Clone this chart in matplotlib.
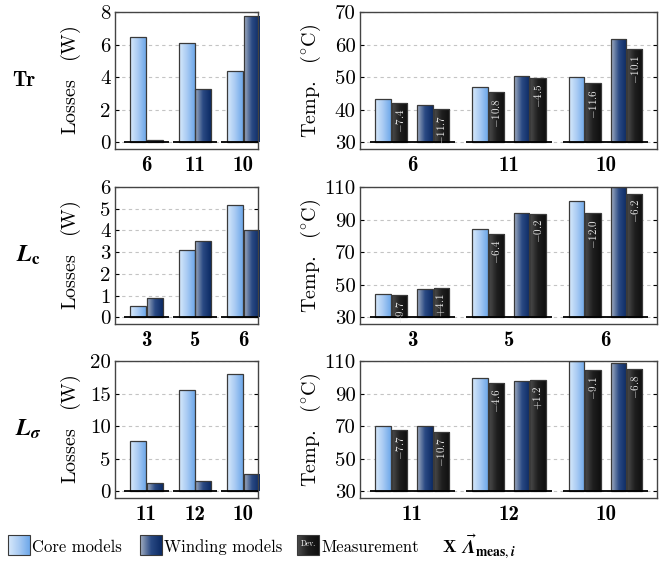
import numpy as np
import matplotlib
matplotlib.use("Agg")
import matplotlib.pyplot as plt
from matplotlib.colors import LinearSegmentedColormap
from matplotlib.patches import Rectangle

plt.rcParams["font.family"] = "serif"
plt.rcParams["font.serif"] = ["cmr10"]
plt.rcParams["mathtext.fontset"] = "cm"
plt.rcParams["axes.unicode_minus"] = False
plt.rcParams["axes.formatter.use_mathtext"] = True

# ---------------- data ----------------
row_names = ["Tr", r"$\mathbfit{L}_{\mathbf{c}}$", r"$\mathbfit{L}_{\mathbfit{\sigma}}$"]

groups_tr = ["6", "11", "10"]
groups_lc = ["3", "5", "6"]
groups_ls = ["11", "12", "10"]

loss_core_tr = [6.44, 6.07, 4.41]
loss_wind_tr = [0.17, 3.30, 7.78]
loss_core_lc = [0.55, 3.08, 5.16]
loss_wind_lc = [0.90, 3.51, 4.00]
loss_core_ls = [7.74, 15.5, 18.05]
loss_wind_ls = [1.28, 1.59, 2.70]

temp_core_tr = [43.3, 47.0, 50.2]
temp_core_meas_tr = [42.2, 45.4, 48.2]
temp_wind_tr = [41.4, 50.5, 61.6]
temp_wind_meas_tr = [40.2, 49.8, 58.8]
dev_core_tr = ["-7.4", "-10.8", "-11.6"]
dev_wind_tr = ["-11.7", "-4.5", "-10.1"]

temp_core_lc = [44.6, 84.1, 101.2]
temp_core_meas_lc = [43.8, 81.2, 94.0]
temp_wind_lc = [47.3, 94.0, 109.8]
temp_wind_meas_lc = [48.3, 93.6, 105.9]
dev_core_lc = ["-9.7", "-6.4", "-12.0"]
dev_wind_lc = ["+4.1", "-0.2", "-6.2"]

temp_core_ls = [70.4, 99.3, 110.0]
temp_core_meas_ls = [67.9, 96.4, 104.2]
temp_wind_ls = [70.2, 97.6, 108.8]
temp_wind_meas_ls = [66.7, 98.2, 105.1]
dev_core_ls = ["-7.7", "-4.6", "-9.1"]
dev_wind_ls = ["-10.7", "+1.2", "-6.8"]

loss_ticks = [[0, 2, 4, 6, 8], [0, 1, 2, 3, 4, 5, 6], [0, 5, 10, 15, 20]]
temp_ticks = [[30, 40, 50, 60, 70], [30, 50, 70, 90, 110], [30, 50, 70, 90, 110]]

# ---------------- style ----------------
cmap_core = LinearSegmentedColormap.from_list("core", ["#d8e9fb", "#a9cbf3", "#6ea8ea"])
cmap_wind = LinearSegmentedColormap.from_list("wind", ["#a3afc2", "#2a4a84", "#0b2a64"])
cmap_meas = LinearSegmentedColormap.from_list("meas", ["#4d4d4d", "#1e1e1e", "#0f0f0f"])
edge = "#3a3a3a"
grid_col = "#c4c4c4"


def grad_bars(ax, bars, cmap):
    g = np.linspace(0, 1, 64).reshape(1, -1)
    for b in bars:
        x0, y0 = b.get_x(), b.get_y()
        im = ax.imshow(g, cmap=cmap, extent=[x0, x0 + b.get_width(), y0, y0 + b.get_height()],
                       aspect="auto", zorder=2, interpolation="bilinear")
        im.set_clip_path(b)


def style_axes(ax, ticks, groups, ylabel, label_x):
    ax.set_yticks(ticks)
    ax.set_yticklabels([str(t) for t in ticks], fontsize=15)
    ax.set_xticks(range(len(groups)))
    ax.set_xticklabels(groups, fontfamily="cmb10", fontsize=15)
    ax.tick_params(axis="x", length=0, pad=5)
    ax.tick_params(axis="y", direction="in", length=3, width=0.8, left=True, right=True, pad=3)
    ax.yaxis.grid(True, linestyle=(0, (3, 3)), color=grid_col, linewidth=0.8)
    ax.set_axisbelow(True)
    for s in ax.spines.values():
        s.set_color("#444444")
        s.set_linewidth(1.0)
    ax.set_ylabel(ylabel, fontsize=14.5)
    ax.yaxis.set_label_coords(label_x, 0.5)
    rng = ticks[-1] - ticks[0]
    ax.set_ylim(ticks[0] - 0.05 * rng, ticks[-1])


def loss_panel(ax, core, wind, groups, ticks):
    pos = np.arange(len(groups))
    w = 0.33
    b1 = ax.bar(pos - 0.17, core, w, facecolor="none", edgecolor=edge, linewidth=0.9, zorder=3)
    b2 = ax.bar(pos + 0.17, wind, w, facecolor="none", edgecolor=edge, linewidth=0.9, zorder=3)
    grad_bars(ax, b1, cmap_core)
    grad_bars(ax, b2, cmap_wind)
    ax.hlines(np.zeros(len(pos)), pos - 0.46, pos + 0.46, color="black", linewidth=1.3, zorder=4)
    style_axes(ax, ticks, groups, r"Losses$\quad$(W)", -0.225)
    ax.set_xlim(-0.65, 2.31)


def temp_panel(ax, core, core_m, wind, wind_m, dev_c, dev_w, groups, ticks):
    pos = np.arange(len(groups))
    base = ticks[0]
    w = 0.16
    sets = [(pos - 0.30, core, cmap_core), (pos - 0.13, core_m, cmap_meas),
            (pos + 0.13, wind, cmap_wind), (pos + 0.30, wind_m, cmap_meas)]
    containers = []
    for x, v, cm in sets:
        b = ax.bar(x, np.array(v) - base, w, bottom=base, facecolor="none",
                   edgecolor=edge, linewidth=0.9, zorder=3)
        grad_bars(ax, b, cm)
        containers.append(b)
    for bars, labels in [(containers[1], dev_c), (containers[3], dev_w)]:
        for b, lab in zip(bars, labels):
            ax.annotate("$" + lab + "$", (b.get_x() + b.get_width() / 2, b.get_y() + b.get_height()),
                        xytext=(0, -4), textcoords="offset points", rotation=90,
                        ha="center", va="top", fontsize=8, color="#e6e6e6", zorder=5)
    ax.hlines(np.full(len(pos), base), pos - 0.44, pos + 0.44, color="black", linewidth=1.3, zorder=4)
    style_axes(ax, ticks, groups, r"Temp.$\quad(^{\circ}\mathrm{C})$", -0.125)
    ax.set_xlim(-0.54, 2.53)


fig = plt.figure(figsize=(6.67, 5.67), dpi=100)

rows_b = [0.7372, 0.4286, 0.1217]
h = 0.2416
losses = [(loss_core_tr, loss_wind_tr, groups_tr), (loss_core_lc, loss_wind_lc, groups_lc),
          (loss_core_ls, loss_wind_ls, groups_ls)]
temps = [(temp_core_tr, temp_core_meas_tr, temp_wind_tr, temp_wind_meas_tr, dev_core_tr, dev_wind_tr, groups_tr),
         (temp_core_lc, temp_core_meas_lc, temp_wind_lc, temp_wind_meas_lc, dev_core_lc, dev_wind_lc, groups_lc),
         (temp_core_ls, temp_core_meas_ls, temp_wind_ls, temp_wind_meas_ls, dev_core_ls, dev_wind_ls, groups_ls)]

for i in range(3):
    axl = fig.add_axes([0.1724, rows_b[i], 0.2151, h])
    loss_panel(axl, losses[i][0], losses[i][1], losses[i][2], loss_ticks[i])
    axr = fig.add_axes([0.5397, rows_b[i], 0.4453, h])
    temp_panel(axr, *temps[i], temp_ticks[i])
    if i == 0:
        fig.text(0.036, rows_b[i] + h / 2, row_names[i], fontfamily="cmb10", fontsize=15,
                 ha="center", va="center")
    else:
        fig.text(0.042, rows_b[i] + h / 2, row_names[i], fontsize=17.5, math_fontfamily="stix",
                 ha="center", va="center")

# ---------------- legend ----------------
leg = fig.add_axes([0, 0, 1, 1], zorder=-1)
leg.set_xlim(0, 667)
leg.set_ylim(567, 0)
leg.axis("off")
g = np.linspace(0, 1, 64).reshape(1, -1)
for x0, cm, label in [(8, cmap_core, "Core models"), (140, cmap_wind, "Winding models"),
                      (297, cmap_meas, "Measurement")]:
    leg.imshow(g, cmap=cm, extent=[x0, x0 + 22, 555, 535], aspect="auto", interpolation="bilinear")
    leg.add_patch(Rectangle((x0, 535), 22, 20, facecolor="none", edgecolor=edge, linewidth=0.8))
    leg.text(x0 + 24, 547, label, fontsize=12, ha="left", va="center")
leg.text(308, 544, "Dev.", fontsize=5.5, color="white", ha="center", va="center")
leg.text(442, 547, "X", fontfamily="cmb10", fontsize=13, ha="left", va="center")
leg.text(461, 547, r"$\vec{\mathbfit{\Lambda}}_{\mathbf{meas},\mathbfit{i}}$", fontsize=14,
         math_fontfamily="stix", ha="left", va="center")

fig.savefig("out.png", dpi=100)
